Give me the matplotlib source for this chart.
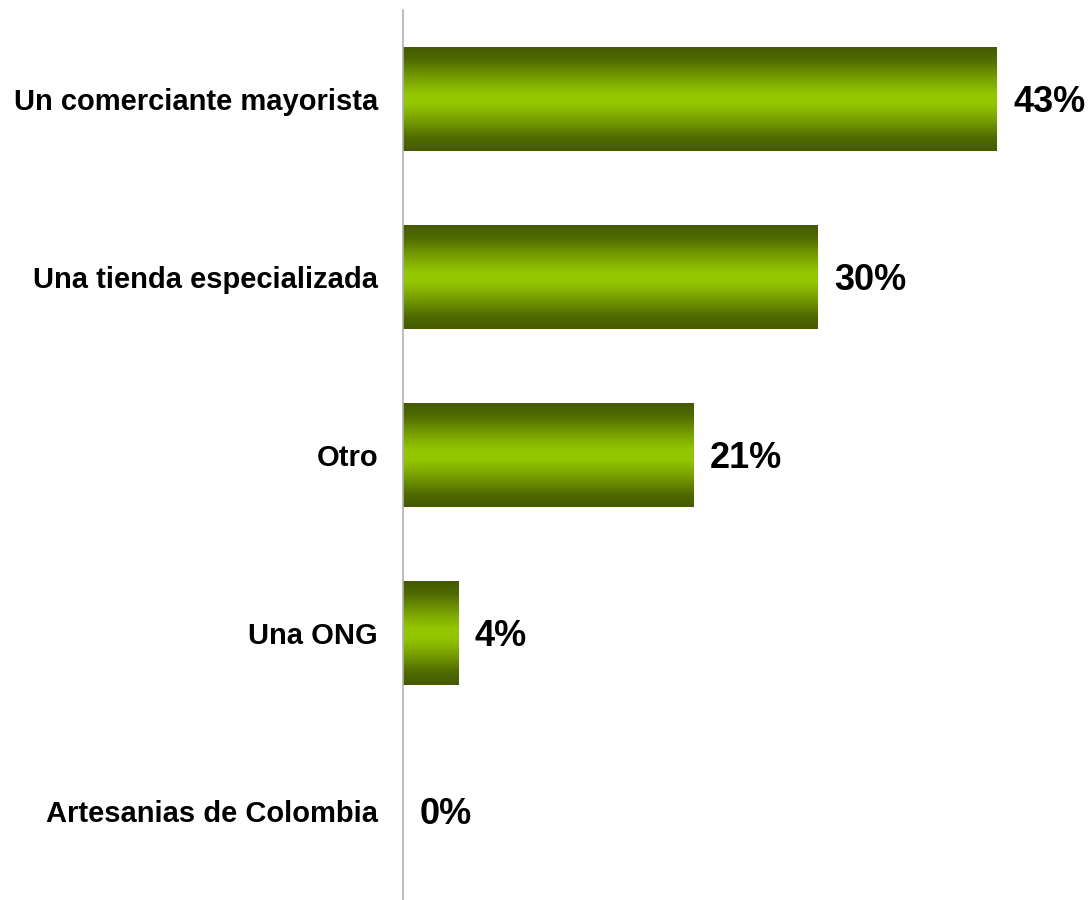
import numpy as np
import matplotlib
matplotlib.use("Agg")
import matplotlib.pyplot as plt
from matplotlib.colors import LinearSegmentedColormap

categories = ["Un comerciante mayorista", "Una tienda especializada", "Otro",
              "Una ONG", "Artesanias de Colombia"]
values = [43, 30, 21, 4, 0]
value_labels = ["43%", "30%", "21%", "4%", "0%"]

plt.rcParams["font.family"] = ["Liberation Sans", "DejaVu Sans"]

fig = plt.figure(figsize=(10.91, 9.0), dpi=100)
ax = fig.add_axes([403 / 1091, 0.0, 1 - 403 / 1091, 1 - 10 / 900])

n = len(categories)
ypos = np.arange(n)[::-1]  # first category at the top
bar_h = 0.58

# vertical gradient: dark olive at the edges, bright lime in the middle
cmap = LinearSegmentedColormap.from_list(
    "olive", [(0.0, "#465a00"), (0.12, "#4f6a00"), (0.3, "#78a000"),
              (0.45, "#94c600"), (0.55, "#94c600"), (0.7, "#78a000"),
              (0.88, "#4f6a00"), (1.0, "#465a00")])
grad = np.linspace(0, 1, 256).reshape(-1, 1)

bars = ax.barh(ypos, values, height=bar_h, color="none", edgecolor="none")
for bar in bars:
    x0, y0 = bar.get_x(), bar.get_y()
    w, h = bar.get_width(), bar.get_height()
    if w <= 0:
        continue
    ax.imshow(grad, cmap=cmap, aspect="auto", interpolation="bicubic",
              extent=[x0, x0 + w, y0, y0 + h], origin="lower", zorder=2)

for y, v, lab in zip(ypos, values, value_labels):
    ax.annotate(lab, xy=(v, y), xytext=(12, 0), textcoords="offset points",
                ha="left", va="center_baseline", fontsize=26,
                fontweight="bold", color="black")

ax.set_xlim(0, 688 / 13.81)
ax.set_ylim(-0.5, n - 0.5)
ax.set_yticks(ypos)
ax.set_yticklabels(categories, fontsize=21, fontweight="bold")
ax.tick_params(axis="y", length=0, pad=18)
ax.set_xticks([])
for s in ["top", "right", "bottom"]:
    ax.spines[s].set_visible(False)
ax.spines["left"].set_color("#b0b0b0")
ax.spines["left"].set_linewidth(1.2)

fig.savefig("out.png", dpi=100, facecolor="white")
